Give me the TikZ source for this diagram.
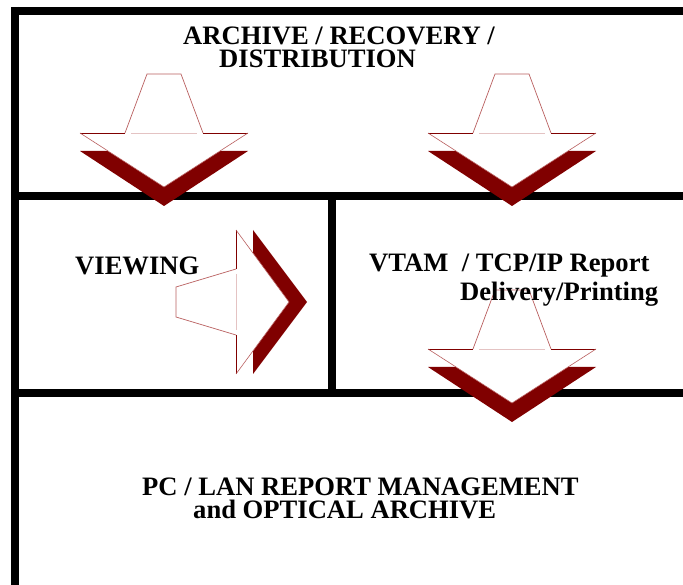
\documentclass[tikz,border=0pt]{standalone}
\usepackage{fontspec}
\setmainfont{Liberation Serif}
\definecolor{shadow}{RGB}{128,0,0}
\definecolor{outl}{RGB}{185,95,95}
\definecolor{faint}{RGB}{228,195,195}
\begin{document}
\begin{tikzpicture}[x=1pt,y=-1pt,
  rule/.style={line width=8pt,black},
  lbl/.style={anchor=base west,inner sep=0pt,font=\fontsize{26.6}{23}\bfseries\selectfont},
  firstline/.style={lbl,text depth=0pt},
  edgeline/.style={draw=outl,line width=0.7pt},
  downarrow/.pic={
    \fill[shadow] (-84,77) -- (84,77) -- (0,132) -- cycle;
    \fill[white] (-17,0) -- (17,0) -- (39,59) -- (84,59) -- (0,113) -- (-84,59) -- (-39,59) -- cycle;
    \draw[edgeline] (-39,59) -- (-17,0) -- (17,0) -- (39,59);
    \draw[shadow,line width=0.7pt] (-84,59) -- (-39,59) (39,59) -- (84,59);
    \draw[edgeline,line width=0.6pt] (-84,59) -- (0,113) -- (84,59);
    \draw[faint,line width=0.7pt] (-33,59) -- (33,59);
  },
  rightarrow/.pic={
    \fill[shadow] (77,-72) -- (131,0) -- (77,72) -- cycle;
    \fill[white] (0,-15) -- (60,-33) -- (60,-72) -- (113,0) -- (60,72) -- (60,33) -- (0,15) -- cycle;
    \draw[edgeline] (60,-33) -- (0,-15) -- (0,15) -- (60,33);
    \draw[shadow,line width=0.7pt] (60,-72) -- (60,-33) (60,33) -- (60,72);
    \draw[edgeline,line width=0.6pt] (60,-72) -- (113,0) -- (60,72);
    \draw[faint,line width=0.7pt] (60,-28) -- (60,28);
  }]
\useasboundingbox (0,0) rectangle (683,585);
% frame rules
\draw[rule] (11,11.5) -- (683,11.5);
\draw[rule] (15,7) -- (15,585);
\draw[rule] (15,196) -- (683,196);
\draw[rule] (332,196) -- (332,393);
\draw[rule] (15,393) -- (683,393);
% arrows
\pic at (164,74) {downarrow};
\pic at (512,74) {downarrow};
\pic at (512,290) {downarrow};
\pic at (176,302) {rightarrow};
% labels
\node[firstline] (arch1) at (183,45) {ARCHIVE / RECOVERY /};
\node[lbl] (arch2) at (219,68) {DISTRIBUTION};
\node[lbl] (view) at (75,275) {VIEWING};
\node[firstline] (vtam1) at (369,272) {VTAM\ \ / TCP/IP Report};
\node[lbl] (vtam2) at (460,301) {Delivery/Printing};
\node[firstline] (pc1) at (142,495) {PC / LAN REPORT MANAGEMENT};
\node[lbl] (pc2) at (193,518) {and OPTICAL ARCHIVE};
\end{tikzpicture}
\end{document}
